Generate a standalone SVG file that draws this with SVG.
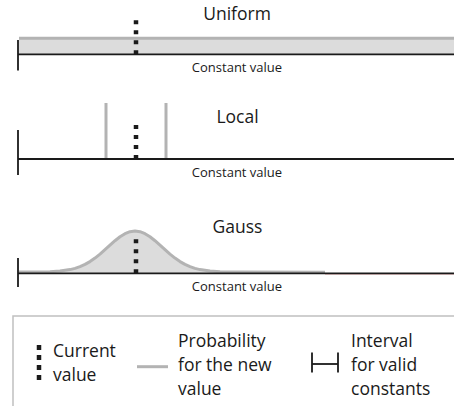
<svg xmlns="http://www.w3.org/2000/svg" width="454" height="406" viewBox="0 0 454 406">
<style>
.t{font-family:"Open Sans","Noto Sans","Liberation Sans",sans-serif;fill:#1a1a1a}
.title{font-size:17.5px;text-anchor:middle}
.cv{font-size:13px;text-anchor:middle}
.lg{font-size:17.5px}
.axis{stroke:#1a1a1a;stroke-width:1.8;fill:none}
.prob{stroke:#b3b3b3;stroke-width:3;fill:none}
.area{fill:#dcdcdc;stroke:none}
.cur{stroke:#1a1a1a;stroke-width:4.5;stroke-dasharray:4 6;fill:none}
</style>
<rect width="454" height="406" fill="#fff"/>
<g id="uniform">
<rect class="area" x="19" y="38.5" width="435" height="15.5"/>
<line class="prob" x1="19" y1="38.3" x2="454" y2="38.3"/>
<line class="axis" x1="18" y1="54.3" x2="454" y2="54.3"/>
<line class="axis" x1="18" y1="40" x2="18" y2="70.5"/>
<line class="cur" x1="136" y1="54.3" x2="136" y2="19"/>
<text class="t title" x="237" y="20">Uniform</text>
<text class="t cv" x="237" y="72.3">Constant value</text>
</g>
<g id="local">
<line class="prob" x1="106" y1="103" x2="106" y2="158"/>
<line class="prob" x1="166" y1="103" x2="166" y2="158"/>
<line class="axis" x1="18" y1="159" x2="454" y2="159"/>
<line class="axis" x1="18" y1="130" x2="18" y2="175"/>
<line class="cur" x1="136" y1="159" x2="136" y2="122"/>
<text class="t title" x="237.5" y="123.3">Local</text>
<text class="t cv" x="237" y="177.3">Constant value</text>
</g>
<g id="gauss">
<polygon class="area" points="19,273 19,272 50,271.7 60,271.1 70,269.6 75,268.4 80,266.7 85,264.4 90,261.6 95,258.1 100,254.1 105,249.7 110,245.1 115,240.7 120,236.8 125,233.7 130,231.7 135,231 140,231.7 145,233.7 150,236.8 155,240.7 160,245.1 165,249.7 170,254.1 175,258.1 180,261.6 185,264.4 190,266.7 195,268.4 200,269.6 210,271.1 220,271.7 240,272 240,273"/>
<line x1="325" y1="274.2" x2="454" y2="274.2" stroke="#b03030" stroke-width="0.8" opacity="0.45"/>
<polyline class="prob" stroke-linejoin="round" points="19,272 50,271.7 60,271.1 70,269.6 75,268.4 80,266.7 85,264.4 90,261.6 95,258.1 100,254.1 105,249.7 110,245.1 115,240.7 120,236.8 125,233.7 130,231.7 135,231 140,231.7 145,233.7 150,236.8 155,240.7 160,245.1 165,249.7 170,254.1 175,258.1 180,261.6 185,264.4 190,266.7 195,268.4 200,269.6 210,271.1 220,271.7 240,272 325,272.2"/>
<line class="axis" x1="18" y1="273.3" x2="454" y2="273.3"/>
<line class="axis" x1="18" y1="258" x2="18" y2="287"/>
<line class="cur" x1="136" y1="273.3" x2="136" y2="236"/>
<text class="t title" x="237.5" y="233.3">Gauss</text>
<text class="t cv" x="237" y="290.7">Constant value</text>
</g>
<g id="legend">
<rect x="13" y="316" width="460" height="110" fill="none" stroke="#c0c0c0" stroke-width="1.5"/>
<line x1="39" y1="345" x2="39" y2="380" stroke="#1a1a1a" stroke-width="4.5" stroke-dasharray="5 5"/>
<text class="t lg" x="53" y="356.7">Current</text>
<text class="t lg" x="53" y="380.5">value</text>
<line class="prob" x1="137" y1="366.7" x2="168" y2="366.7"/>
<text class="t lg" x="178" y="346.7">Probability</text>
<text class="t lg" x="178" y="370.7">for the new</text>
<text class="t lg" x="178" y="394.5">value</text>
<line class="axis" x1="312" y1="364" x2="338" y2="364" stroke-width="2"/>
<line class="axis" x1="312" y1="352.5" x2="312" y2="372.5" stroke-width="2"/>
<line class="axis" x1="338" y1="352.5" x2="338" y2="372.5" stroke-width="2"/>
<text class="t lg" x="351" y="346.7">Interval</text>
<text class="t lg" x="351" y="370.7">for valid</text>
<text class="t lg" x="351" y="394.5">constants</text>
</g>
<g id="connectors"/>
</svg>
